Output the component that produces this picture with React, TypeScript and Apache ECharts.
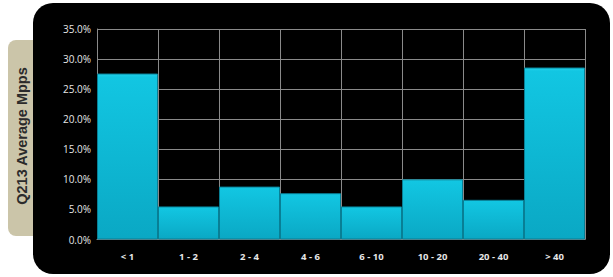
import React, { useEffect, useRef } from "react";
import * as echarts from "echarts";

const categories = ["< 1", "1 - 2", "2 - 4", "4 - 6", "6 - 10", "10 - 20", "20 - 40", "> 40"];
const shareValues = [27.6, 5.5, 8.8, 7.7, 5.5, 10.0, 6.6, 28.6];
const axisTitle = "Q213 Average Mpps";

export default function App() {
  const ref = useRef<HTMLDivElement>(null);
  useEffect(() => {
    if (!ref.current) return;
    const chart = echarts.init(ref.current, null, { renderer: "svg" });
    chart.setOption({
      animation: false,
      backgroundColor: "#ffffff",
      graphic: [
        {
          type: "rect",
          z: -10,
          shape: { x: 8, y: 40, width: 40, height: 196, r: 8 },
          style: { fill: "#cbc5a9" },
        },
        {
          type: "rect",
          z: -9,
          shape: { x: 33, y: 3, width: 577, height: 271, r: 20 },
          style: { fill: "#000000" },
        },
        {
          type: "text",
          z: 10,
          x: 22,
          y: 136,
          rotation: Math.PI / 2,
          style: {
            text: axisTitle,
            fill: "#2b2b2b",
            font: "bold 14.5px 'Liberation Sans', Arial, sans-serif",
            align: "center",
            verticalAlign: "middle",
          },
        },
      ],
      grid: { left: 97, right: 28, top: 29, bottom: 37.5 },
      xAxis: {
        type: "category",
        data: categories,
        boundaryGap: true,
        axisLine: { lineStyle: { color: "#8a8a8a", width: 1 } },
        axisTick: { show: false },
        splitLine: { show: true, lineStyle: { color: "#8a8a8a", width: 1 } },
        axisLabel: {
          color: "#e6e6e6",
          fontSize: 9.5,
          fontWeight: "bold",
          fontFamily: "'Open Sans', sans-serif",
          margin: 12,
        },
      },
      yAxis: {
        type: "value",
        min: 0,
        max: 35,
        interval: 5,
        axisLine: { show: true, lineStyle: { color: "#8a8a8a" } },
        axisTick: { show: false },
        splitLine: { show: true, lineStyle: { color: "#8a8a8a", width: 1 } },
        axisLabel: {
          color: "#e6e6e6",
          fontSize: 10,
          fontFamily: "'Open Sans', sans-serif",
          margin: 6,
          formatter: (v: number) => v.toFixed(1) + "%",
        },
      },
      series: [
        {
          type: "bar",
          data: shareValues,
          barCategoryGap: "0%",
          itemStyle: {
            color: new echarts.graphic.LinearGradient(0, 0, 0, 1, [
              { offset: 0, color: "#20d0ea" },
              { offset: 0.02, color: "#12c6e2" },
              { offset: 1, color: "#0aa8c4" },
            ]),
            borderColor: "#087f95",
            borderWidth: 1,
          },
        },
      ],
    });
    return () => chart.dispose();
  }, []);
  return (
    <div
      ref={ref}
      style={{ position: "fixed", left: 0, top: 0, width: 613, height: 277 }}
    />
  );
}
